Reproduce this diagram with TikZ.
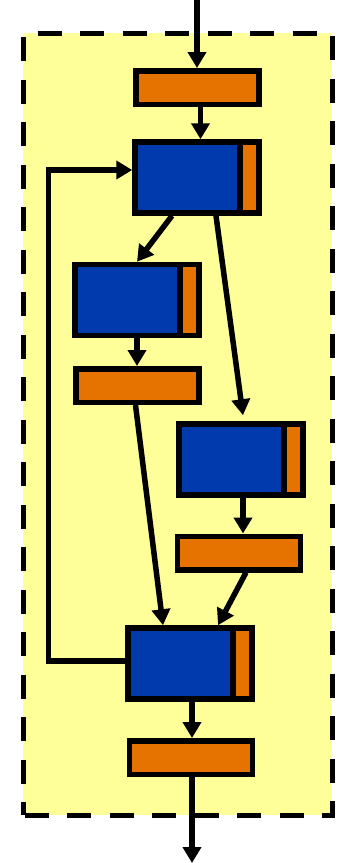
\documentclass[tikz,border=0pt]{standalone}
\usepackage{tikz}
\usetikzlibrary{arrows.meta}
\definecolor{unitblue}{RGB}{0,58,173}
\definecolor{gateorange}{RGB}{230,115,0}
\definecolor{paleyellow}{RGB}{255,255,153}
\begin{document}
\begin{tikzpicture}[x=1pt,y=-1pt,
		gate/.style={draw,line width=5.5pt,fill=gateorange,inner sep=0pt,minimum width=123pt,minimum height=33.5pt},
		unit/.style={draw,line width=5.5pt,fill=unitblue,inner sep=0pt,minimum width=124pt,minimum height=71pt,
			path picture={
				\fill[gateorange] ([xshift=-19pt]path picture bounding box.south east) rectangle (path picture bounding box.north east);
				\draw[line width=5.5pt] ([xshift=-19pt]path picture bounding box.south east) -- ([xshift=-19pt]path picture bounding box.north east);
			}},
		flow/.style={line width=5.5pt,-{Triangle[length=16pt,width=18pt]}},
		frame/.style={line width=5pt,dash pattern=on 24pt off 18.5pt,dash phase=11pt,fill=paleyellow}]
			\useasboundingbox (0,0) rectangle (341,863);
			\draw[frame] (23,815) rectangle (332,33);
			\node[gate] (g1) at (197.5,87.5) {};
			\node[unit] (u1) at (197,177.5) {};
			\node[unit] (u2) at (137,300) {};
			\node[gate] (g2) at (137.5,385.5) {};
			\node[unit] (u3) at (241,459.5) {};
			\node[gate] (g3) at (239,553) {};
			\node[unit] (u4) at (190,663.5) {};
			\node[gate] (g4) at (191,757.5) {};
			\coordinate (src) at (197,0);
			\coordinate (sink) at (192,863);
			\draw[flow] (src) -- (src |- g1.north);
			\draw[flow] ([xshift=3pt]g1.south) -- ([xshift=3pt]g1.south |- u1.north);
			\draw[flow] ([xshift=-25pt]u1.south) -- (u2.north);
			\draw[flow] ([xshift=19pt]u1.south) -- ([xshift=2pt,yshift=6pt]u3.north);
			\draw[flow] (u2.south) -- (u2.south |- g2.north);
			\draw[flow] ([xshift=-2pt]g2.south) -- ([xshift=-27pt]u4.north);
			\draw[flow] ([xshift=2pt]u3.south) -- ([xshift=2pt]u3.south |- g3.north);
			\draw[flow] ([xshift=7pt]g3.south) -- ([xshift=28pt]u4.north);
			\draw[flow] ([xshift=2pt]u4.south) -- ([xshift=2pt]u4.south |- g4.north);
			\draw[flow] ([xshift=1pt]g4.south) -- (sink);
			\draw[flow] ([yshift=2.5pt]u4.west) -- ++(-77,0) |- ([yshift=7.5pt]u1.west);
	\end{tikzpicture}
\end{document}
